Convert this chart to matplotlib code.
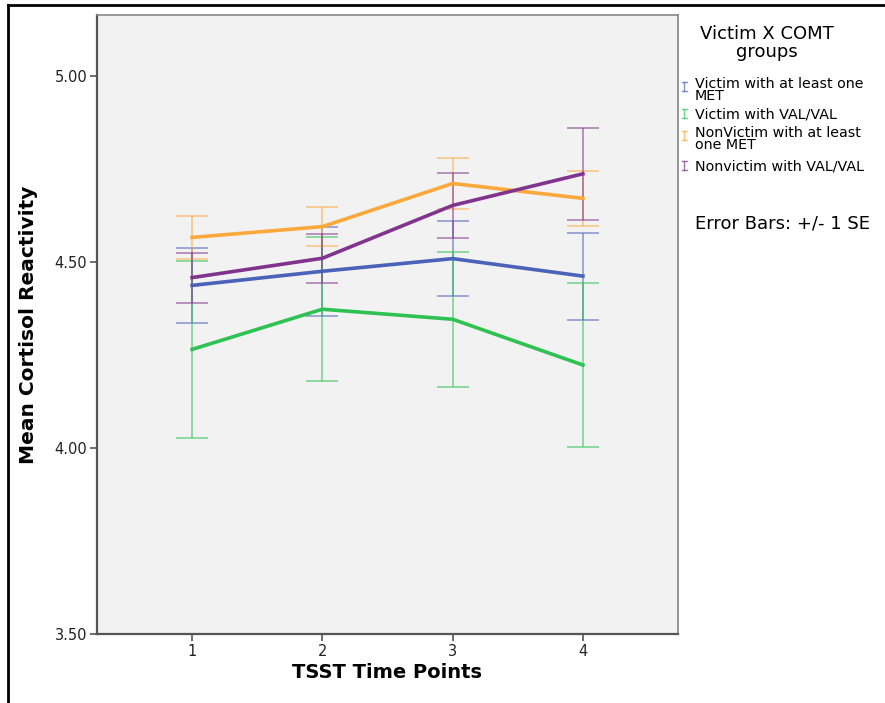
import matplotlib
matplotlib.use('Agg')
import matplotlib.pyplot as plt
from matplotlib.lines import Line2D
import numpy as np

# data
time_points = [1, 2, 3, 4]
groups = ['Victim with at least one\nMET',
          'Victim with VAL/VAL',
          'NonVictim with at least\none MET',
          'Nonvictim with VAL/VAL']
means = [
    [4.437, 4.475, 4.509, 4.462],
    [4.265, 4.373, 4.346, 4.223],
    [4.566, 4.595, 4.711, 4.671],
    [4.458, 4.510, 4.652, 4.737],
]
se = [
    [0.101, 0.119, 0.101, 0.117],
    [0.237, 0.194, 0.181, 0.220],
    [0.057, 0.053, 0.069, 0.073],
    [0.067, 0.066, 0.087, 0.123],
]
colors = ['#4a62b8', '#2ec253', '#fba93b', '#81348e']
y_ticks = [3.5, 4.0, 4.5, 5.0]

fig = plt.figure(figsize=(8.85, 7.03), dpi=100)
ax = fig.add_axes([0.1096, 0.0982, 0.6565, 0.8805])
ax.set_facecolor('#f2f2f2')

for m, e, c in zip(means, se, colors):
    ax.errorbar(time_points, m, yerr=e, fmt='none', ecolor=c, alpha=0.6,
                elinewidth=1.2, capsize=11.5, capthick=1.2)
for m, c in zip(means, colors):
    ax.plot(time_points, m, color=c, linewidth=2.6)

ax.set_xlim(0.27, 4.73)
ax.set_ylim(3.5, 5.164)
ax.set_xticks(time_points)
ax.set_yticks(y_ticks)
ax.set_yticklabels(['%.2f' % v for v in y_ticks])
for s in ['top', 'right']:
    ax.spines[s].set_color('#888888')
    ax.spines[s].set_linewidth(1.2)
for s in ['left', 'bottom']:
    ax.spines[s].set_color('#555555')
    ax.spines[s].set_linewidth(1.6)
ax.tick_params(axis='both', direction='out', length=5, width=1.2,
               color='#555555', labelsize=10.5, labelcolor='#222222', pad=2)
ax.set_xlabel('TSST Time Points', fontsize=14, fontweight='bold', labelpad=3)
ax.set_ylabel('Mean Cortisol Reactivity', fontsize=14.5, fontweight='bold', labelpad=12)

# legend drawn by hand, SPSS style
fig.text(0.867, 1 - 43 / 703, 'Victim X COMT\ngroups', ha='center', va='center',
         fontsize=13, linespacing=0.95)
entry_y = [90, 114, 139, 166]
marker_y = [86, 113, 135, 165]
for g, c, ty, my in zip(groups, colors, entry_y, marker_y):
    fig.text(695 / 885, 1 - ty / 703, g, ha='left', va='center',
             fontsize=10.3, linespacing=0.8)
    xm = 684 / 885
    yc = 1 - my / 703
    h = 4.5 / 703
    w = 2.5 / 885
    fig.add_artist(Line2D([xm, xm], [yc - h, yc + h], color=c, lw=1, alpha=0.7))
    fig.add_artist(Line2D([xm - w, xm + w], [yc + h, yc + h], color=c, lw=1, alpha=0.7))
    fig.add_artist(Line2D([xm - w, xm + w], [yc - h, yc - h], color=c, lw=1, alpha=0.7))
fig.text(695 / 885, 1 - 224 / 703, 'Error Bars: +/- 1 SE', ha='left', va='center',
         fontsize=13)

# screenshot frame
fig.add_artist(Line2D([8 / 885, 8 / 885], [0, 1 - 5 / 703], color='black', lw=2))
fig.add_artist(Line2D([8 / 885, 1], [1 - 5 / 703, 1 - 5 / 703], color='black', lw=2))

fig.savefig('out.png', dpi=100)
